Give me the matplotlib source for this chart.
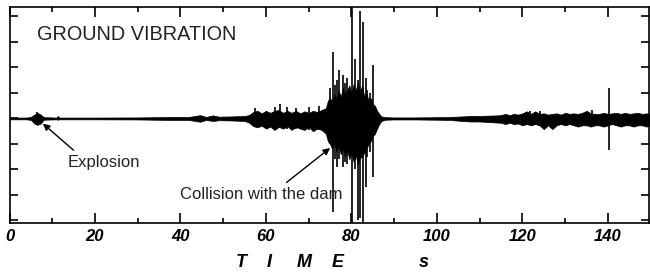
import matplotlib.pyplot as plt

plt.rcParams['font.family'] = ['Liberation Sans', 'DejaVu Sans']

# envelope of the ground vibration trace (time s, upper, lower)
quiet_t = [0, 4, 5, 5.8, 6.5, 7.3, 8, 11, 11.3, 11.6, 20, 30, 38, 42, 44.6, 46, 47.6, 49, 52, 55, 56]
quiet_hi = [0.035, 0.035, 0.06, 0.15, 0.22, 0.15, 0.05, 0.035, 0.1, 0.035, 0.035, 0.04, 0.06, 0.06, 0.13, 0.06, 0.12, 0.07, 0.08, 0.1, 0.13]
quiet_lo = [-0.035, -0.035, -0.06, -0.2, -0.25, -0.2, -0.05, -0.035, -0.05, -0.035, -0.035, -0.04, -0.06, -0.06, -0.13, -0.06, -0.1, -0.07, -0.08, -0.1, -0.16]

pre_t = [57, 58, 59, 60, 61, 62, 63, 64, 65, 66, 67, 68, 69, 70, 71, 72, 73, 74]
pre_hi = [0.25, 0.3, 0.2, 0.3, 0.22, 0.3, 0.33, 0.22, 0.3, 0.22, 0.3, 0.2, 0.28, 0.22, 0.3, 0.25, 0.33, 0.4]
pre_lo = [-0.3, -0.35, -0.28, -0.4, -0.32, -0.45, -0.33, -0.4, -0.3, -0.45, -0.33, -0.4, -0.45, -0.33, -0.5, -0.4, -0.45, -0.6]

burst_t = [74.5, 75, 75.5, 76, 76.5, 77, 77.5, 78, 78.5, 79, 79.5, 80, 80.5,
           81, 81.5, 82, 82.5, 83, 83.5, 84, 84.5, 85, 85.5, 86, 86.5, 87]
burst_hi = [0.7, 0.8, 0.65, 0.95, 0.75, 1.1, 0.85, 1.2, 0.95, 1.1, 1.3, 0.95, 1.35,
            1.1, 1.4, 1.05, 1.3, 0.85, 1.0, 0.7, 0.8, 0.55, 0.5, 0.3, 0.18, 0.08]
burst_lo = [-0.9, -1.0, -1.2, -0.95, -1.3, -1.05, -1.4, -1.15, -1.5, -1.25, -1.6, -1.35, -1.7,
            -1.45, -1.8, -1.55, -1.5, -1.35, -1.2, -1.0, -0.9, -0.7, -0.6, -0.4, -0.22, -0.1]

post_t = [88, 90, 95, 100, 103, 106, 108, 110, 112, 114]
post_hi = [0.05, 0.04, 0.04, 0.05, 0.06, 0.08, 0.1, 0.1, 0.11, 0.12]
post_lo = [-0.05, -0.04, -0.04, -0.05, -0.06, -0.1, -0.12, -0.12, -0.14, -0.16]

late_t = list(range(115, 151))
late_hi = [0.13, 0.18, 0.13, 0.18, 0.15, 0.2, 0.28, 0.18, 0.28, 0.18, 0.2, 0.15,
           0.18, 0.2, 0.15, 0.22, 0.18, 0.2, 0.18, 0.22, 0.3, 0.2, 0.18, 0.18,
           0.22, 0.18, 0.2, 0.22, 0.18, 0.22, 0.18, 0.2, 0.22, 0.18, 0.2, 0.18]
late_lo = [-0.17, -0.22, -0.17, -0.22, -0.2, -0.27, -0.22, -0.27, -0.22, -0.27, -0.42, -0.27,
           -0.42, -0.27, -0.22, -0.27, -0.22, -0.27, -0.32, -0.27, -0.27, -0.32, -0.27, -0.27,
           -0.32, -0.27, -0.22, -0.27, -0.32, -0.27, -0.27, -0.32, -0.27, -0.27, -0.32, -0.27]

# single spikes (time, top, bottom)
spike_t = [6.5, 57.5, 62.0, 63.3, 65.0, 67.0, 70.0, 72.4, 74.9, 75.7, 76.2, 76.7, 77.1, 78.0,
           78.6, 79.0, 80.1, 80.9, 81.5, 82.0, 82.8, 83.3, 83.6, 84.3, 85.1, 121.8, 124.0, 136.3, 140.3]
spike_hi = [0.25, 0.4, 0.45, 0.55, 0.45, 0.4, 0.45, 0.5, 1.2, 2.6, 1.3, 1.5, 1.9, 1.7,
            1.4, 1.6, 4.5, 2.35, 1.5, 4.2, 3.8, 1.6, 1.1, 1.0, 2.1, 0.3, 0.3, 0.33, 1.2]
spike_lo = [-0.2, -0.3, -0.4, -0.35, -0.4, -0.4, -0.45, -0.45, -1.0, -3.67, -1.6, -1.9, -1.6, -1.9,
            -1.7, -1.8, -4.5, -2.0, -4.0, -3.9, -4.1, -2.7, -1.5, -1.3, -2.3, -0.25, -0.3, -0.3, -1.25]

x_ticks = [0, 20, 40, 60, 80, 100, 120, 140]

env_t = quiet_t + pre_t + burst_t + post_t + late_t
env_hi = quiet_hi + pre_hi + burst_hi + post_hi + late_hi
env_lo = quiet_lo + pre_lo + burst_lo + post_lo + late_lo

W, H = 650, 275
fig = plt.figure(figsize=(6.5, 2.75), dpi=100, facecolor='white')
ax = fig.add_axes([9.5 / W, 1 - 223 / H, (648.5 - 9.5) / W, (223 - 7) / H])

ax.fill_between(env_t, env_lo, env_hi, color='black', lw=0.5)
ax.vlines(spike_t, spike_lo, spike_hi, color='black', lw=1.2)

ax.set_xlim(0, 149.5)
ax.set_ylim(-4.10, 4.37)

ax.set_xticks(x_ticks)
ax.set_xticks([10, 30, 50, 70, 90, 110, 130], minor=True)
ax.set_yticks(range(-4, 5))
ax.tick_params(axis='x', which='major', direction='in', length=7, width=1.2,
               top=True, bottom=True, pad=4, labelsize=12)
ax.tick_params(axis='x', which='minor', direction='in', length=3.5, width=1.2,
               top=True, bottom=True)
ax.tick_params(axis='y', direction='in', length=6, width=1.2,
               left=True, right=True, labelleft=False)
for lab in ax.get_xticklabels():
    lab.set_fontstyle('italic')
    lab.set_fontweight('bold')
for sp in ax.spines.values():
    sp.set_linewidth(1.2)

fig.text(37 / W, 1 - 35 / H, 'GROUND VIBRATION', fontsize=14.3, color='#222222',
         ha='left', va='center')

ax.annotate('Explosion', xy=(7.8, -0.2), xytext=(13.7, -1.90),
            fontsize=12, color='#222222', ha='left', va='baseline',
            arrowprops=dict(arrowstyle='-|>', color='black', lw=1.0,
                            mutation_scale=10, shrinkA=2, shrinkB=0,
                            relpos=(0.15, 1.0)))
ax.annotate('Collision with the dam', xy=(75.0, -1.16), xytext=(39.9, -3.16),
            fontsize=12, color='#222222', ha='left', va='baseline',
            arrowprops=dict(arrowstyle='-|>', color='black', lw=1.0,
                            mutation_scale=10, shrinkA=2, shrinkB=0,
                            relpos=(0.62, 1.0)))

for ch, xp in zip(['T', 'I', 'M', 'E', 's'], [241, 269, 304, 338, 424]):
    fig.text(xp / W, 1 - 267 / H, ch, fontsize=13, fontstyle='italic',
             fontweight='bold', ha='center', va='baseline')

fig.savefig('out.png', dpi=100, facecolor='white')
